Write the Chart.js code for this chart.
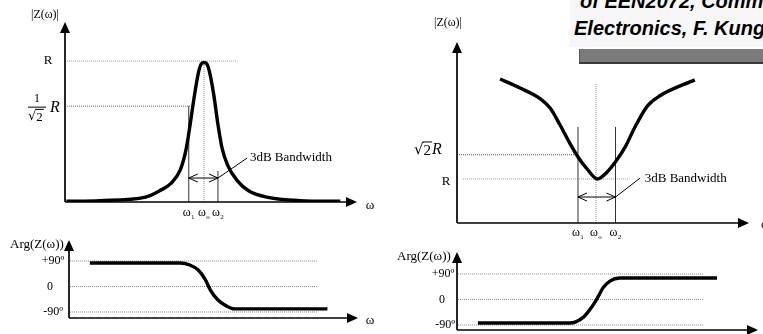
<!DOCTYPE html>
<html><head><meta charset="utf-8">
<script src="https://cdn.jsdelivr.net/npm/chart.js@4.4.1/dist/chart.umd.min.js"></script>
<style>
html,body{margin:0;padding:0;background:#fff;overflow:hidden;width:763px;height:334px}
canvas{position:absolute;left:0;top:0}
#box{position:absolute;left:570px;top:0;width:193px;height:47px;background:#f7f7f7;overflow:hidden}
#box div{position:absolute;left:4px;font:italic bold 20px "Liberation Sans",Arial,sans-serif;white-space:nowrap;color:#000}
#bar{position:absolute;left:579px;top:49px;width:184px;height:13px;background:#7a7a7a;border-bottom:2px solid #3a3a3a;border-left:1px solid #555}
</style></head><body>
<canvas id="c1" width="763" height="334"></canvas>
<canvas id="c2" width="763" height="334"></canvas>
<canvas id="c3" width="763" height="334"></canvas>
<canvas id="c4" width="763" height="334"></canvas>
<div id="box"><div style="top:-10px;left:10px">of EEN2072, Communication</div><div style="top:17px">Electronics, F. Kung</div></div>
<div id="bar"></div>
<script>
// ---------- data (ω normalised so that ωo = 1) ----------
const magLeftW  = [0.01,0.25,0.58,0.68,0.76,0.83,0.87,0.90,0.93,0.96,0.98,1.00,1.02,1.04,1.07,1.10,1.13,1.17,1.24,1.32,1.45,1.69,1.98];
const magLeftZ  = [0.005,0.01,0.035,0.08,0.13,0.23,0.37,0.55,0.75,0.92,0.98,0.99,0.98,0.92,0.76,0.55,0.38,0.26,0.15,0.08,0.035,0.01,0.005];
const magLeftLevels = [1.0, 0.68];            // R, R/√2
const bandLeft = [0.89, 1.0, 1.10];           // ω1, ωo, ω2

const magRightW = [0.31,0.45,0.60,0.67,0.74,0.81,0.87,0.935,1.01,1.08,1.14,1.21,1.28,1.37,1.46,1.71];
const magRightZ = [3.27,3.07,2.82,2.61,2.23,1.82,1.50,1.23,1.0,1.16,1.39,1.73,2.18,2.66,2.89,3.25];
const magRightLevels = [1.55, 1.0];           // √2R, R
const bandRight = [0.87, 1.0, 1.14];

const phaseLeftW   = [0.15,0.80,0.87,0.93,0.98,1.02,1.07,1.13,1.19,1.86];
const phaseLeftDeg = [83,83,76,58,25,-15,-47,-68,-79,-79];
const phaseRightW   = [0.15,0.81,0.91,0.97,1.01,1.05,1.10,1.17,1.87];
const phaseRightDeg = [-83,-83,-62,-26,5,41,65,76,76];
const phaseTicks = [90, 0, -90];
const phaseTickLabels = ['+90º', '0', '-90º'];
const bandLabels = ['1', 'o', '2'];

// ---------- helpers ----------
const SERIF = '"Liberation Serif","Times New Roman",serif';
function pts(xs, ys){ return xs.map((x,i)=>({x:x, y:ys[i]})); }
function txt(ctx,s,x,y,size,align,style){
  ctx.font=(style||'')+' '+size+'px '+SERIF; ctx.textAlign=align||'center'; ctx.textBaseline='middle';
  ctx.fillStyle='#000'; ctx.fillText(s,x,y);
}
function omega(ctx,sub,x,y){
  txt(ctx,'ω',x-2,y,12,'center');
  txt(ctx,sub,x+4,y+4,7,'center');
}
function line(ctx,x1,y1,x2,y2,w,col,dash){
  ctx.save(); ctx.beginPath(); ctx.lineWidth=w; ctx.strokeStyle=col; ctx.setLineDash(dash||[]);
  ctx.moveTo(x1,y1); ctx.lineTo(x2,y2); ctx.stroke(); ctx.restore();
}
function axes(chart){
  const ctx=chart.ctx, a=chart.chartArea, L=11, H=5;
  line(ctx,a.left,a.bottom,a.right-L,a.bottom,1.7,'#000');
  line(ctx,a.left,a.bottom,a.left,a.top+L,1.7,'#000');
  ctx.fillStyle='#000';
  ctx.beginPath(); ctx.moveTo(a.right,a.bottom); ctx.lineTo(a.right-L,a.bottom-H); ctx.lineTo(a.right-L,a.bottom+H); ctx.closePath(); ctx.fill();
  ctx.beginPath(); ctx.moveTo(a.left,a.top); ctx.lineTo(a.left-H,a.top+L); ctx.lineTo(a.left+H,a.top+L); ctx.closePath(); ctx.fill();
}
function dblArrow(ctx,x1,x2,y){
  line(ctx,x1,y,x2,y,1,'#000');
  line(ctx,x1,y,x1+9,y-4,1,'#000'); line(ctx,x1,y,x1+9,y+4,1,'#000');
  line(ctx,x2,y,x2-9,y-4,1,'#000'); line(ctx,x2,y,x2-9,y+4,1,'#000');
}
function sqrt2(ctx,x,y,size){ // draws √2 starting at x, returns end x
  ctx.font=size+'px "DejaVu Serif",serif'; ctx.textAlign='left'; ctx.textBaseline='middle'; ctx.fillStyle='#000';
  const w1=ctx.measureText('√').width; ctx.fillText('√',x,y);
  ctx.font=size+'px '+SERIF; const w2=ctx.measureText('2').width; ctx.fillText('2',x+w1,y+1);
  line(ctx,x+w1-1,y-size*0.52,x+w1+w2+1,y-size*0.52,1,'#000');
  return x+w1+w2;
}
function base(area, xr, yr, data, deco){
  return {
    type:'line',
    data:{datasets:[{data:data,borderColor:'#000',borderWidth:3.4,pointRadius:0,cubicInterpolationMode:'monotone',fill:false}]},
    options:{
      responsive:false, animation:false, events:[],
      layout:{padding:{left:area[0],right:763-area[1],top:area[2],bottom:334-area[3]}},
      scales:{x:{type:'linear',display:false,min:xr[0],max:xr[1]},y:{type:'linear',display:false,min:yr[0],max:yr[1]}},
      plugins:{legend:{display:false},tooltip:{enabled:false}}
    },
    plugins:[{id:'deco',beforeDatasetsDraw(c){deco(c,true);},afterDatasetsDraw(c){deco(c,false);}}]
  };
}

// ---------- top-left: parallel resonance |Z| ----------
new Chart(document.getElementById('c1'), base([65,357,22,202],[0,2.10],[0,1.277], pts(magLeftW,magLeftZ), function(c,before){
  const ctx=c.ctx, X=v=>c.scales.x.getPixelForValue(v), Y=v=>c.scales.y.getPixelForValue(v);
  if(before){
    line(ctx,X(0)+2,Y(magLeftLevels[0]),X(1.24),Y(magLeftLevels[0]),1,'#9a9a9a',[1,1]);
    line(ctx,X(0)+2,Y(magLeftLevels[1]),X(0.90),Y(magLeftLevels[1]),1,'#666',[1,1]);
    line(ctx,X(bandLeft[1]),Y(0),X(bandLeft[1]),Y(1.0),1,'#888',[1,1]);
    line(ctx,X(bandLeft[0]),Y(0),X(bandLeft[0]),Y(magLeftLevels[1]),1,'#333');
    line(ctx,X(bandLeft[2]),Y(0),X(bandLeft[2]),Y(0.22),1,'#333');
    return;
  }
  axes(c);
  const yb=Y(0.17);
  dblArrow(ctx,X(bandLeft[0]),X(bandLeft[2]),yb);
  line(ctx,X(bandLeft[2]),yb,X(1.31),Y(0.312),1,'#000');
  txt(ctx,'3dB Bandwidth',X(1.33),Y(0.312),13,'left');
  txt(ctx,'|Z(ω)|',45,15,12,'center');
  txt(ctx,'R',48,Y(magLeftLevels[0]),13,'center');
  txt(ctx,'1',37,Y(magLeftLevels[1])-7,12,'center');
  line(ctx,28,Y(magLeftLevels[1])+1,46,Y(magLeftLevels[1])+1,1,'#000');
  sqrt2(ctx,28,Y(magLeftLevels[1])+10,13);
  txt(ctx,'R',55,Y(magLeftLevels[1])+2,16,'center','italic');
  bandLeft.forEach((w,i)=>omega(ctx,bandLabels[i],X(w),Y(0)+11));
  txt(ctx,'ω',370,206,13,'center');
}));

// ---------- top-right: series resonance |Z| ----------
new Chart(document.getElementById('c2'), base([457,749,42,223],[0,2.10],[0,4.11], pts(magRightW,magRightZ), function(c,before){
  const ctx=c.ctx, X=v=>c.scales.x.getPixelForValue(v), Y=v=>c.scales.y.getPixelForValue(v);
  if(before){
    line(ctx,X(0)+2,Y(magRightLevels[0]),X(bandRight[0]),Y(magRightLevels[0]),1,'#555',[1,1]);
    line(ctx,X(0)+6,Y(magRightLevels[1]),X(1.24),Y(magRightLevels[1]),1,'#9a9a9a',[1,1]);
    line(ctx,X(bandRight[1]),Y(0),X(bandRight[1]),Y(3.18),1,'#888',[1,1]);
    line(ctx,X(bandRight[0]),Y(0),X(bandRight[0]),Y(2.18),1,'#333');
    line(ctx,X(bandRight[2]),Y(0),X(bandRight[2]),Y(2.18),1,'#333');
    return;
  }
  axes(c);
  const yb=Y(0.59);
  dblArrow(ctx,X(bandRight[0]),X(bandRight[2]),yb);
  line(ctx,X(bandRight[2]),yb,X(1.317),Y(1.02),1,'#000');
  txt(ctx,'3dB Bandwidth',X(1.35),Y(1.02),13,'left');
  txt(ctx,'|Z(ω)|',448,23,12,'center');
  const e=sqrt2(ctx,414,Y(magRightLevels[0])-5,15);
  txt(ctx,'R',e+1,Y(magRightLevels[0])-5,16,'left','italic');
  txt(ctx,'R',446,Y(magRightLevels[1])+3,13,'center');
  bandRight.forEach((w,i)=>omega(ctx,bandLabels[i],X(w),Y(0)+10));
  txt(ctx,'ω',761,225,13,'left');
}));

// ---------- bottom-left: phase ----------
new Chart(document.getElementById('c3'), base([69,358,240,318],[0,2.08],[-111.2,164.1], pts(phaseLeftW,phaseLeftDeg), function(c,before){
  const ctx=c.ctx, X=v=>c.scales.x.getPixelForValue(v), Y=v=>c.scales.y.getPixelForValue(v);
  if(before){
    phaseTicks.forEach(t=>line(ctx,X(0)+1,Y(t),X(1.784),Y(t),1,'#8a8a8a',[1,1]));
    return;
  }
  axes(c);
  txt(ctx,'Arg(Z(ω))',10,245,13,'left');
  txt(ctx,phaseTickLabels[0],53,Y(phaseTicks[0]),12,'center');
  txt(ctx,phaseTickLabels[1],50,Y(phaseTicks[1]),12,'center');
  txt(ctx,phaseTickLabels[2],53,Y(phaseTicks[2]),12,'center');
  txt(ctx,'ω',370,321,13,'center');
}));

// ---------- bottom-right: phase ----------
new Chart(document.getElementById('c4'), base([457,758,252,330],[0,2.165],[-107.6,167.6], pts(phaseRightW,phaseRightDeg), function(c,before){
  const ctx=c.ctx, X=v=>c.scales.x.getPixelForValue(v), Y=v=>c.scales.y.getPixelForValue(v);
  if(before){
    phaseTicks.forEach(t=>line(ctx,X(0)+1,Y(t),X(1.77),Y(t),1,'#8a8a8a',[1,1]));
    return;
  }
  axes(c);
  txt(ctx,'Arg(Z(ω))',397,257,13,'left');
  txt(ctx,phaseTickLabels[0],443,Y(phaseTicks[0]),12,'center');
  txt(ctx,phaseTickLabels[1],442,Y(phaseTicks[1]),12,'center');
  txt(ctx,phaseTickLabels[2],445,Y(phaseTicks[2]),12,'center');
}));
</script>
</body></html>
